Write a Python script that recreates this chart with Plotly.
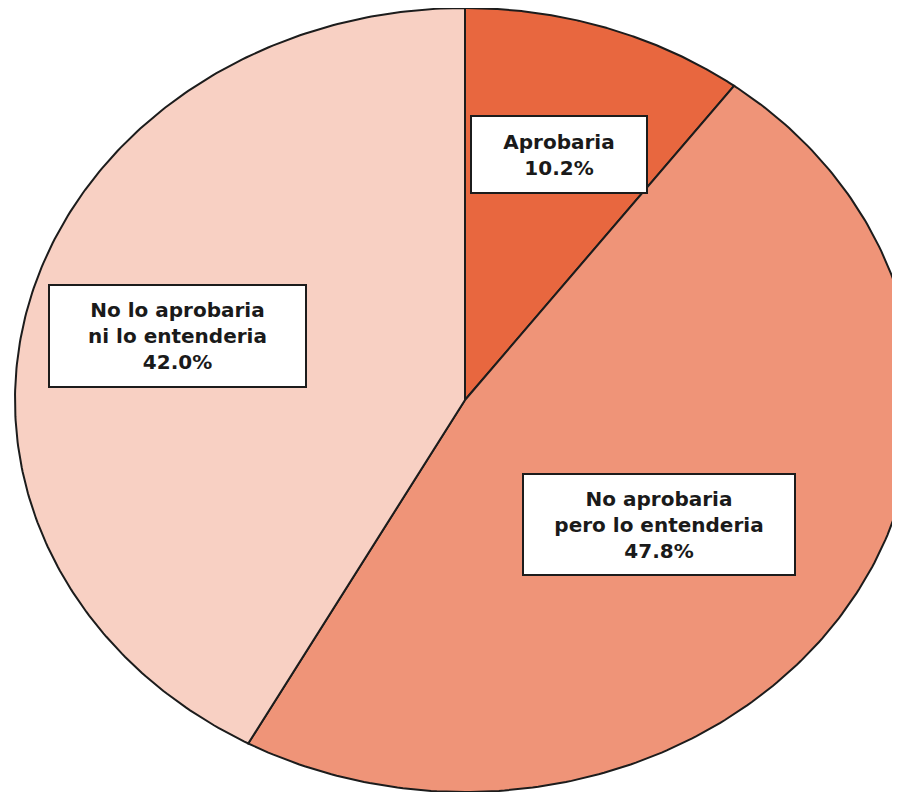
import numpy as np
import plotly.graph_objects as go

# slices, clockwise from 12 o'clock
labels = [
    "Aprobaria",
    "No aprobaria<br>pero lo entenderia",
    "No lo aprobaria<br>ni lo entenderia",
]
values = [10.2, 47.8, 42.0]

colors = ["#E8673F", "#EF9478", "#F8D0C3"]
edge = "#1c1c1c"
# label box sizes (px), distance from the centre and a small angle nudge (deg)
boxes = [(176, 77), (272, 101), (257, 102)]
label_r = [0.66, 0.536, 0.66]
label_nudge = [0, 3.6, 0]

fig = go.Figure()

total = sum(values)
start = 0.0
for lab, val, col, (bw, bh), r, nudge in zip(
    labels, values, colors, boxes, label_r, label_nudge
):
    a0 = 2 * np.pi * start / total
    a1 = 2 * np.pi * (start + val) / total
    t = np.linspace(a0, a1, 240)
    xs = np.concatenate([[0], np.sin(t), [0]])
    ys = np.concatenate([[0], np.cos(t), [0]])
    fig.add_scatter(
        x=xs,
        y=ys,
        mode="lines",
        fill="toself",
        fillcolor=col,
        line=dict(color=edge, width=2),
        hoverinfo="skip",
    )
    mid = (a0 + a1) / 2 + np.radians(nudge)
    fig.add_annotation(
        x=r * np.sin(mid),
        y=r * np.cos(mid),
        xref="x",
        yref="y",
        text=f"{lab}<br>{val:.1f}%",
        showarrow=False,
        width=bw - 2,
        height=bh - 2,
        align="center",
        valign="middle",
        bgcolor="white",
        bordercolor=edge,
        borderwidth=2,
        borderpad=0,
        font=dict(family="DejaVu Sans", size=20, color="#1a1a1a", weight="bold"),
    )
    start += val

# page body has an 8px margin, so the plot sits at (8, 8)
# pie is squashed: 450 px across, 392 px tall, centre at (457, 392) inside the figure
fig.update_xaxes(range=[-457 / 450, 435 / 450], visible=False, fixedrange=True)
fig.update_yaxes(range=[-392 / 392, 392 / 392], visible=False, fixedrange=True)

fig.update_layout(
    width=892,
    height=784,
    margin={"t": 0, "r": 0, "l": 0, "b": 0},
    showlegend=False,
    plot_bgcolor="white",
    paper_bgcolor="white",
)

fig.write_html("out.html")
